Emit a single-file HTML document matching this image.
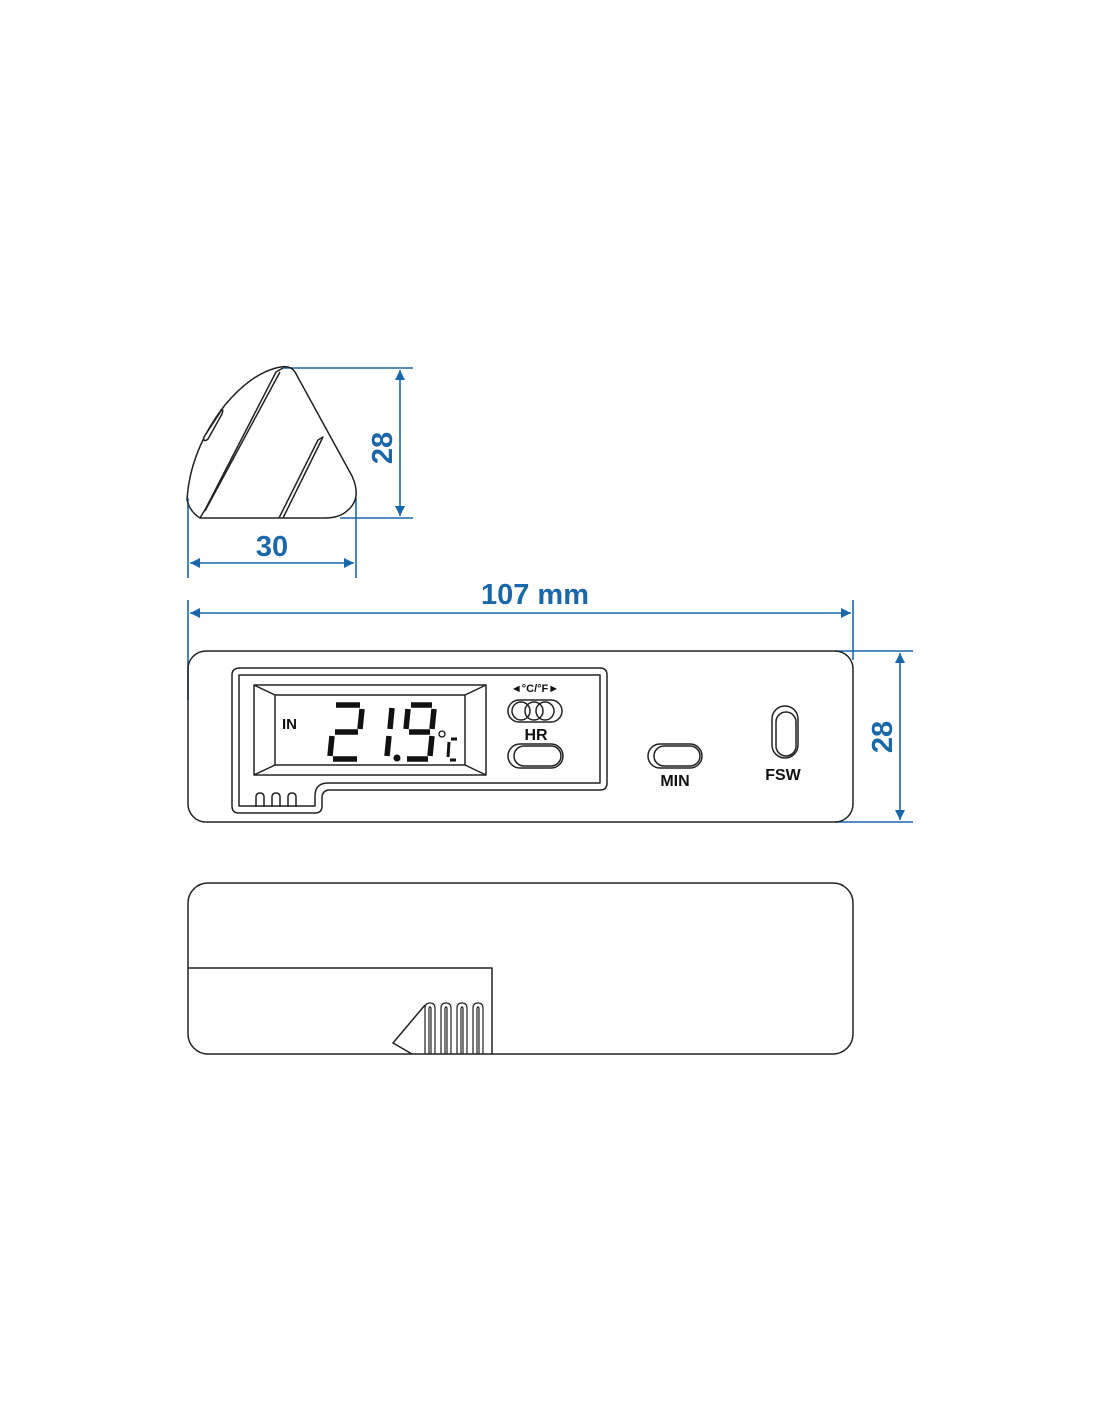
<!DOCTYPE html>
<html><head><meta charset="utf-8"><style>
html,body{margin:0;padding:0;background:#fff;}
svg{display:block;}
text{font-family:"Liberation Sans",Arial,sans-serif;font-weight:bold;}
</style></head><body>
<svg width="1100" height="1422" viewBox="0 0 1100 1422" xmlns="http://www.w3.org/2000/svg">
<defs>
<marker id="a" viewBox="0 0 10 10" refX="10" refY="5" markerWidth="14" markerHeight="10" orient="auto-start-reverse" markerUnits="userSpaceOnUse"><path d="M0,0 L10,5 L0,10 Z" fill="#1a67aa"/></marker>
</defs>
<g stroke="#1a67aa" stroke-width="1.6" fill="none">
<line x1="283" y1="368" x2="413" y2="368"/>
<line x1="340" y1="518" x2="413" y2="518"/>
<line x1="400" y1="370" x2="400" y2="516" marker-start="url(#a)" marker-end="url(#a)"/>
<line x1="188" y1="498" x2="188" y2="578"/>
<line x1="356" y1="498" x2="356" y2="578"/>
<line x1="190" y1="563" x2="354" y2="563" marker-start="url(#a)" marker-end="url(#a)"/>
<line x1="188" y1="600" x2="188" y2="700"/>
<line x1="853" y1="600" x2="853" y2="660"/>
<line x1="190" y1="613" x2="851" y2="613" marker-start="url(#a)" marker-end="url(#a)"/>
<line x1="835" y1="651" x2="913" y2="651"/>
<line x1="835" y1="822" x2="913" y2="822"/>
<line x1="900" y1="653" x2="900" y2="820" marker-start="url(#a)" marker-end="url(#a)"/>
</g>
<g fill="#1a67aa" font-size="29">
<text x="272" y="556" text-anchor="middle">30</text>
<text x="535" y="604" text-anchor="middle">107 mm</text>
<text transform="translate(392,448) rotate(-90)" text-anchor="middle">28</text>
<text transform="translate(892,737) rotate(-90)" text-anchor="middle">28</text>
</g>
<g stroke="#222" stroke-width="1.5" fill="none" stroke-linejoin="round">
<path d="M276,368 Q290,364 295,372 L352,476 Q362,498 348,510 Q340,518 325,518 L200,518 Q190,512 187,500 Q190,450 225,405 Q250,375 276,368 Z"/>
<path d="M200,518 L206,508 L276,372 L283,368"/>
<path d="M205,511 L280,372"/>
<path d="M279,518 L318,440 L323,437 L283,518"/>
<path d="M221,411 Q224,408 222,414 L208,439 Q203,443 204,437 Z" fill="#fff"/>
<rect x="188" y="651" width="665" height="171" rx="18"/>
<path d="M240,668 H600 Q607,668 607,675 V783 Q607,790 600,790 H330 Q322,790 322,798 V806 Q322,813 315,813 H239 Q232,813 232,806 V675 Q232,668 240,668 Z"/>
<path d="M239,675 H600 V783 H328 Q315,783 315,796 V806 H239 Z"/>
<path d="M256,807 V797 Q256,793 260,793 Q264,793 264,797 V807"/>
<path d="M272,807 V797 Q272,793 276,793 Q280,793 280,797 V807"/>
<path d="M288,807 V797 Q288,793 292,793 Q296,793 296,797 V807"/>
<rect x="254" y="685" width="232" height="90"/>
<rect x="275" y="695" width="190" height="70"/>
<path d="M254,685 L275,695 M486,685 L465,695 M254,775 L275,765 M486,775 L465,765"/>
<rect x="508" y="700" width="54" height="22" rx="11"/>
<circle cx="521" cy="711" r="9"/><circle cx="534" cy="711" r="9"/><circle cx="545" cy="711" r="9"/>
<rect x="508" y="744" width="55" height="24" rx="12"/>
<rect x="514" y="746" width="47" height="20" rx="10"/>
<rect x="648" y="744" width="54" height="24" rx="12"/>
<rect x="654" y="746" width="46" height="20" rx="10"/>
<rect x="772" y="706" width="26" height="52" rx="13"/>
<rect x="776" y="712" width="20" height="44" rx="10"/>
<rect x="188" y="883" width="665" height="171" rx="20"/>
<path d="M188,968 H492 V1054"/>
<path d="M425,1005 L393,1043 L412,1054"/>
</g>
<g stroke="#222" stroke-width="1.2" fill="none">
<path d="M425,1054 V1008 Q425,1003 430,1003 Q435,1003 435,1008 V1054 M429,1054 V1009 Q429,1007 430,1007 Q431,1007 431,1009 V1054"/>
<path d="M441,1054 V1008 Q441,1003 446,1003 Q451,1003 451,1008 V1054 M445,1054 V1009 Q445,1007 446,1007 Q447,1007 447,1009 V1054"/>
<path d="M457,1054 V1008 Q457,1003 462,1003 Q467,1003 467,1008 V1054 M461,1054 V1009 Q461,1007 462,1007 Q463,1007 463,1009 V1054"/>
<path d="M473,1054 V1008 Q473,1003 478,1003 Q483,1003 483,1008 V1054 M477,1054 V1009 Q477,1007 478,1007 Q479,1007 479,1009 V1054"/>
</g>
<g stroke="#111" stroke-width="5.5" stroke-linecap="butt" fill="none">
<path d="M336,705 H360 M362,709 L360,729 M358,732 H335 M332,736 L330,756 M333,759 H357"/>
<path d="M392,708 L390,729 M389,736 L387,756"/>
<path d="M411,705 H432 M408,709 L406,729 M434,709 L432,729 M409,732 H430 M432,736 L430,756 M407,759 H428"/>
<path d="M451,739 H457 M449,742 L448,757 M450,760 H456" stroke-width="3"/>
</g>
<circle cx="397" cy="758" r="3.5" fill="#111"/>
<circle cx="442" cy="734" r="3" fill="none" stroke="#111" stroke-width="1.3"/>
<g fill="#111" font-size="16">
<text x="282" y="729" font-size="15">IN</text>
<text x="536" y="740" text-anchor="middle">HR</text>
<text x="535" y="692" text-anchor="middle" font-size="11">◄°C/°F►</text>
<text x="675" y="786" text-anchor="middle">MIN</text>
<text x="783" y="780" text-anchor="middle">FSW</text>
</g>
</svg>
</body></html>
